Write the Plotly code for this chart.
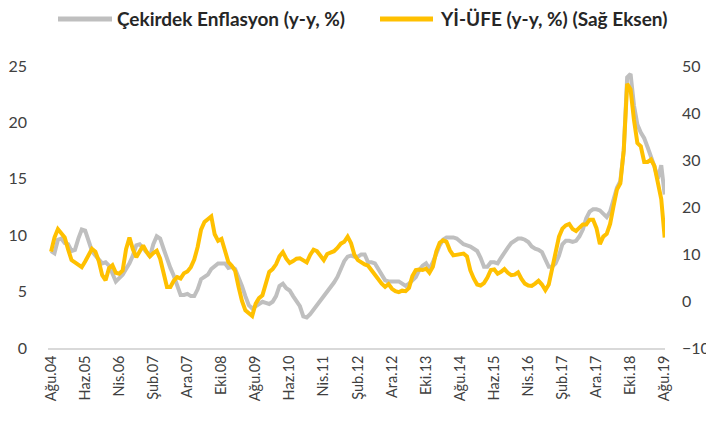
import plotly.graph_objects as go

# Monthly data, Aug 2004 .. Aug 2019 (181 months)
core = [
    8.6, 8.4, 9.6, 9.7, 9.3, 9.2, 8.6, 8.7, 9.7, 10.5,
    10.4, 9.4, 8.6, 8.2, 7.8, 7.5, 7.6, 7.3, 6.6, 5.9,
    6.2, 6.5, 7.0, 7.5, 8.2, 9.1, 9.2, 8.9, 8.5, 8.1,
    9.2, 9.9, 9.7, 8.8, 7.9, 7.1, 6.4, 5.6, 4.7, 4.7,
    4.8, 4.6, 4.6, 5.2, 6.1, 6.3, 6.5, 7.0, 7.3, 7.5,
    7.5, 7.5, 7.1, 7.2, 7.0, 6.3, 5.5, 4.6, 3.8, 3.5,
    3.7, 3.9, 4.1, 4.0, 3.9, 4.1, 4.6, 5.5, 5.7, 5.3,
    5.1, 4.6, 4.2, 3.7, 2.8, 2.7, 3.0, 3.4, 3.7, 4.1,
    4.5, 5.0, 5.3, 5.8, 6.3, 7.0, 7.7, 8.1, 8.2, 8.1,
    8.1, 8.3, 8.3, 7.6, 7.6, 7.5, 7.0, 6.4, 6.0, 5.9,
    5.9, 5.9, 5.9, 5.7, 5.5, 5.7, 6.0, 6.3, 6.9, 7.3,
    7.5, 7.0, 7.6, 8.4, 9.1, 9.6, 9.8, 9.8, 9.8, 9.7,
    9.4, 9.2, 9.1, 9.0, 8.8, 8.6, 8.0, 7.2, 7.2, 7.6,
    7.6, 7.5, 8.0, 8.5, 8.9, 9.3, 9.5, 9.7, 9.7, 9.6,
    9.4, 9.0, 8.8, 8.7, 8.5, 7.9, 7.2, 7.2, 7.5, 8.2,
    9.2, 9.5, 9.5, 9.4, 9.5, 9.9, 10.5, 11.5, 12.1, 12.3,
    12.3, 12.2, 11.9, 11.6, 12.1, 13.2, 14.2, 14.8, 17.5, 24.0,
    24.3, 21.5, 19.8, 19.1, 18.6, 17.8, 17.0, 16.1, 15.0, 16.2,
    13.6,
]

ppi = [
    10.5, 13.5, 15.3, 14.5, 13.5, 11.0, 8.7, 8.2, 7.6, 7.2,
    8.4, 10.0, 11.1, 10.5, 8.5, 5.5, 4.4, 7.0, 7.6, 6.0,
    5.8, 6.5, 11.0, 13.5, 11.0, 9.3, 10.5, 11.8, 10.5, 9.5,
    10.2, 10.7, 9.0, 6.0, 3.0, 3.0, 4.3, 5.1, 4.8, 5.9,
    6.3, 7.2, 8.8, 11.5, 15.2, 16.8, 17.5, 18.0, 14.2, 12.8,
    13.2, 11.0, 8.3, 7.5, 6.4, 3.0, 0.0, -2.0, -2.5, -3.2,
    -0.6, 0.6, 1.2, 3.5, 6.2, 6.8, 7.8, 9.5, 10.4, 9.0,
    8.1, 8.5, 9.0, 9.1, 8.7, 8.2, 9.8, 10.9, 10.6, 9.5,
    8.7, 10.0, 10.3, 10.6, 11.3, 12.2, 12.6, 13.7, 12.3, 9.8,
    8.7, 8.2, 7.8, 7.5, 6.5, 5.7, 4.7, 3.7, 3.0, 3.6,
    2.6, 2.1, 1.9, 2.2, 2.1, 2.8, 5.3, 6.6, 6.7, 6.6,
    6.9, 6.0, 7.3, 10.5, 12.4, 12.9, 12.6, 10.8, 9.7, 9.9,
    10.0, 10.1, 9.5, 6.5, 4.8, 3.5, 3.3, 3.8, 5.0, 6.6,
    6.7, 5.8, 6.2, 6.8, 6.0, 5.5, 5.6, 6.1, 4.7, 3.7,
    3.3, 3.2, 3.7, 4.3, 3.5, 2.3, 3.5, 6.8, 10.5, 13.7,
    15.4, 16.1, 16.4, 15.3, 14.9, 15.5, 16.3, 16.3, 17.3, 17.3,
    15.5, 12.1, 13.7, 14.3, 16.4, 20.2, 23.7, 25.0, 32.1, 46.2,
    45.0, 38.5, 33.6, 32.9, 29.6, 29.6, 30.1, 28.7, 25.0, 21.7,
    13.5,
]

tick_labels = ["Ağu.04", "Haz.05", "Nis.06", "Şub.07", "Ara.07", "Eki.08",
               "Ağu.09", "Haz.10", "Nis.11", "Şub.12", "Ara.12", "Eki.13",
               "Ağu.14", "Haz.15", "Nis.16", "Şub.17", "Ara.17", "Eki.18",
               "Ağu.19"]
tick_step = 10

series_names = ["Çekirdek Enflasyon (y-y, %)", "Yİ-ÜFE (y-y, %) (Sağ Eksen)"]
series_colors = ["#BFBFBF", "#FFC000"]

x = list(range(len(core)))
tickvals = [i * tick_step for i in range(len(tick_labels))]

FONT = "Lato"
TXT = "#404040"

# the page body has an 8px margin, so the figure is drawn 8px right/down
OFF = 8
W, H = 714 - OFF, 428 - OFF
ML, MT = 48 - OFF, 66 - OFF
PR, PB = 665 - OFF, 348 - OFF          # plot right / bottom in figure px
MR, MB = W - PR, H - PB
PW, PH = W - ML - MR, H - MT - MB


def px_x(p):
    return (p - OFF - ML) / PW


def px_y(p):
    return 1 + (MT - (p - OFF)) / PH


fig = go.Figure()
fig.add_trace(go.Scatter(x=x, y=core, name=series_names[0], mode="lines",
                         line=dict(color=series_colors[0], width=4), yaxis="y"))
fig.add_trace(go.Scatter(x=x, y=ppi, name=series_names[1], mode="lines",
                         line=dict(color=series_colors[1], width=4), yaxis="y2"))

# manual legend (page pixel positions)
leg_y = px_y(19)
legend_items = [(58, 112, 116), (380, 433, 439)]
shapes, annotations = [], []
for (s0, s1, tx), name, col in zip(legend_items, series_names, series_colors):
    shapes.append(dict(type="line", xref="paper", yref="paper",
                       x0=px_x(s0), x1=px_x(s1), y0=leg_y, y1=leg_y,
                       line=dict(color=col, width=5)))
    annotations.append(dict(xref="paper", yref="paper", x=px_x(tx), y=leg_y,
                            xanchor="left", yanchor="middle", showarrow=False,
                            borderpad=0,
                            text="<b>" + name + "</b>",
                            font=dict(family=FONT, size=19, color="#262626")))

fig.update_layout(
    width=W, height=H,
    margin=dict(l=ML, r=MR, t=MT, b=MB),
    paper_bgcolor="white", plot_bgcolor="white",
    font=dict(family=FONT, color=TXT, size=14),
    showlegend=False,
    shapes=shapes, annotations=annotations,
    xaxis=dict(range=[-0.9, 180.1], tickmode="array", tickvals=tickvals,
               ticktext=tick_labels, tickangle=-90, showgrid=False, zeroline=False,
               showline=True, linecolor="#D9D9D9", linewidth=1.5, ticks="",
               automargin=False,
               tickfont=dict(family=FONT, size=14.5, color=TXT)),
    yaxis=dict(range=[0, 25], dtick=5, showgrid=False, zeroline=False, ticks="",
               showline=False, automargin=False,
               tickfont=dict(family=FONT, size=16, color=TXT),
               ticklabelstandoff=20),
    yaxis2=dict(range=[-10, 50], dtick=10, overlaying="y", side="right",
                showgrid=False, zeroline=False, ticks="", showline=False,
                automargin=False,
                tickfont=dict(family=FONT, size=16, color=TXT),
                ticklabelstandoff=16),
)

fig.write_html("out.html")
